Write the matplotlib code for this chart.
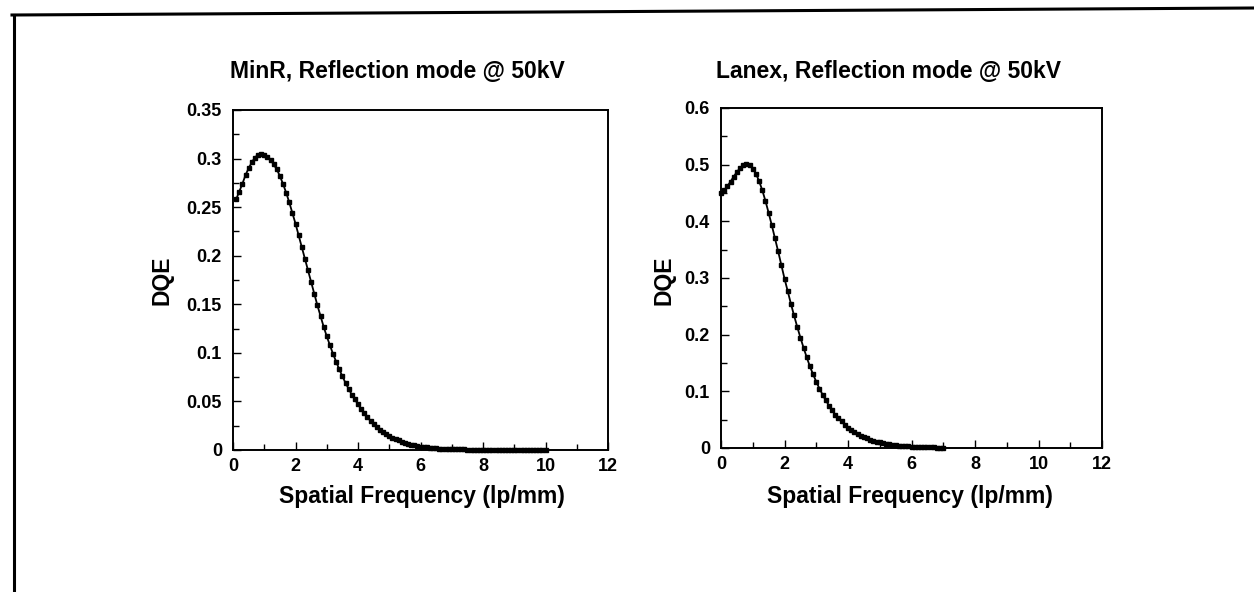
import numpy as np
import matplotlib
matplotlib.use("Agg")
from matplotlib import pyplot as plt
from matplotlib.lines import Line2D
from matplotlib.ticker import MultipleLocator

plt.rcParams['font.family'] = ['Liberation Sans', 'DejaVu Sans']
plt.rcParams['font.weight'] = 'bold'

# MinR: 0.1 .. 10.0 lp/mm
minr_freq = [0.1, 0.2, 0.3, 0.4, 0.5, 0.6, 0.7, 0.8, 0.9, 1.0,
             1.1, 1.2, 1.3, 1.4, 1.5, 1.6, 1.7, 1.8, 1.9, 2.0,
             2.1, 2.2, 2.3, 2.4, 2.5, 2.6, 2.7, 2.8, 2.9, 3.0,
             3.1, 3.2, 3.3, 3.4, 3.5, 3.6, 3.7, 3.8, 3.9, 4.0,
             4.1, 4.2, 4.3, 4.4, 4.5, 4.6, 4.7, 4.8, 4.9, 5.0,
             5.1, 5.2, 5.3, 5.4, 5.5, 5.6, 5.7, 5.8, 5.9, 6.0,
             6.1, 6.2, 6.3, 6.4, 6.5, 6.6, 6.7, 6.8, 6.9, 7.0,
             7.1, 7.2, 7.3, 7.4, 7.5, 7.6, 7.7, 7.8, 7.9, 8.0,
             8.1, 8.2, 8.3, 8.4, 8.5, 8.6, 8.7, 8.8, 8.9, 9.0,
             9.1, 9.2, 9.3, 9.4, 9.5, 9.6, 9.7, 9.8, 9.9, 10.0]
minr_dqe = [0.258, 0.266, 0.274, 0.283, 0.290, 0.296, 0.301, 0.304, 0.305, 0.304,
            0.302, 0.299, 0.294, 0.289, 0.282, 0.274, 0.265, 0.255, 0.244, 0.233,
            0.221, 0.209, 0.197, 0.185, 0.173, 0.161, 0.149, 0.138, 0.127, 0.117,
            0.108, 0.099, 0.091, 0.083, 0.076, 0.069, 0.063, 0.057, 0.052, 0.047,
            0.042, 0.038, 0.034, 0.030, 0.027, 0.024, 0.021, 0.019, 0.016, 0.0145,
            0.0128, 0.0112, 0.0098, 0.0086, 0.0075, 0.0065, 0.0056, 0.0048, 0.0041, 0.0035,
            0.0030, 0.0026, 0.0022, 0.0019, 0.0016, 0.0014, 0.0012, 0.0010, 0.0009, 0.0008,
            0.0007, 0.0007, 0.0006, 0.0006, 0.0005, 0.0005, 0.0005, 0.0004, 0.0004, 0.0004,
            0.0004, 0.0003, 0.0003, 0.0003, 0.0003, 0.0003, 0.0003, 0.0002, 0.0002, 0.0002,
            0.0002, 0.0002, 0.0002, 0.0002, 0.0002, 0.0002, 0.0002, 0.0002, 0.0002, 0.0002]

# Lanex: 0.0 .. 7.0 lp/mm
lanex_freq = [0.0, 0.1, 0.2, 0.3, 0.4, 0.5, 0.6, 0.7, 0.8, 0.9, 1.0,
              1.1, 1.2, 1.3, 1.4, 1.5, 1.6, 1.7, 1.8, 1.9, 2.0,
              2.1, 2.2, 2.3, 2.4, 2.5, 2.6, 2.7, 2.8, 2.9, 3.0,
              3.1, 3.2, 3.3, 3.4, 3.5, 3.6, 3.7, 3.8, 3.9, 4.0,
              4.1, 4.2, 4.3, 4.4, 4.5, 4.6, 4.7, 4.8, 4.9, 5.0,
              5.1, 5.2, 5.3, 5.4, 5.5, 5.6, 5.7, 5.8, 5.9, 6.0,
              6.1, 6.2, 6.3, 6.4, 6.5, 6.6, 6.7, 6.8, 6.9, 7.0]
lanex_dqe = [0.450, 0.455, 0.462, 0.470, 0.479, 0.487, 0.494, 0.499, 0.501, 0.499, 0.493,
             0.484, 0.471, 0.455, 0.436, 0.415, 0.393, 0.370, 0.347, 0.323, 0.299,
             0.277, 0.255, 0.234, 0.214, 0.195, 0.177, 0.160, 0.144, 0.130, 0.117,
             0.105, 0.094, 0.084, 0.075, 0.067, 0.059, 0.053, 0.047, 0.041, 0.036,
             0.032, 0.028, 0.025, 0.022, 0.019, 0.017, 0.015, 0.013, 0.011, 0.010,
             0.0085, 0.0074, 0.0064, 0.0056, 0.0049, 0.0042, 0.0037, 0.0032, 0.0028, 0.0024,
             0.0021, 0.0018, 0.0016, 0.0014, 0.0012, 0.0010, 0.0009, 0.0008, 0.0007, 0.0006]

titles = ['MinR, Reflection mode @ 50kV', 'Lanex, Reflection mode @ 50kV']
xticks = [0, 2, 4, 6, 8, 10, 12]
minr_yticks = [0, 0.05, 0.1, 0.15, 0.2, 0.25, 0.3, 0.35]
lanex_yticks = [0, 0.1, 0.2, 0.3, 0.4, 0.5, 0.6]

W, H = 1254, 592
fig = plt.figure(figsize=(W / 100, H / 100), dpi=100)

def px(x0, y0, x1, y1):
    return [x0 / W, 1 - y1 / H, (x1 - x0) / W, (y1 - y0) / H]

ax1 = fig.add_axes(px(233, 110, 608, 450))
ax2 = fig.add_axes(px(721, 108, 1102, 448))

panels = [
    (ax1, minr_freq, minr_dqe, minr_yticks, 0.35, 0.025, ['0', '0.05', '0.1', '0.15', '0.2', '0.25', '0.3', '0.35']),
    (ax2, lanex_freq, lanex_dqe, lanex_yticks, 0.6, 0.05, ['0', '0.1', '0.2', '0.3', '0.4', '0.5', '0.6']),
]

for ax, x, y, yt, ytop, yminor, ylabels in panels:
    ax.plot(x, y, color='black', lw=1.3, marker='s', markersize=3.3, clip_on=False)
    ax.set_xlim(0, 12)
    ax.set_ylim(0, ytop)
    ax.set_xticks(xticks)
    ax.set_xticklabels([str(t) for t in xticks])
    ax.set_yticks(yt)
    ax.set_yticklabels(ylabels)
    ax.xaxis.set_minor_locator(MultipleLocator(1))
    ax.yaxis.set_minor_locator(MultipleLocator(yminor))
    ax.tick_params(which='both', direction='in', top=False, right=False,
                   labelsize=13, width=1.0)
    ax.tick_params(axis='y', pad=8)
    ax.tick_params(axis='x', pad=6)
    ax.tick_params(which='major', length=6)
    ax.tick_params(which='minor', length=4)
    for lab in ax.get_xticklabels() + ax.get_yticklabels():
        lab.set_fontweight('bold')
    for s in ax.spines.values():
        s.set_linewidth(1.4)

# titles, axis labels placed like in the original page
fs = 16.5
fig.text(397 / W, 1 - 72 / H, titles[0], ha='center', va='center', fontsize=fs, fontweight='bold')
fig.text(888 / W, 1 - 72 / H, titles[1], ha='center', va='center', fontsize=fs, fontweight='bold')
fig.text(422 / W, 1 - 497 / H, 'Spatial Frequency (lp/mm)', ha='center', va='center', fontsize=fs, fontweight='bold')
fig.text(910 / W, 1 - 497 / H, 'Spatial Frequency (lp/mm)', ha='center', va='center', fontsize=fs, fontweight='bold')
fig.text(162 / W, 1 - 280 / H, 'DQE', ha='center', va='center', rotation=90, fontsize=fs, fontweight='bold')
fig.text(664 / W, 1 - 280 / H, 'DQE', ha='center', va='center', rotation=90, fontsize=fs, fontweight='bold')

# page border (top and left edges only)
fig.add_artist(Line2D([12 / W, 1.0], [1 - 15 / H, 1 - 8 / H], transform=fig.transFigure, color='black', lw=2.2))
fig.add_artist(Line2D([14 / W, 14 / W], [1 - 15 / H, 0], transform=fig.transFigure, color='black', lw=2.2))

fig.savefig('out.png', dpi=100)
